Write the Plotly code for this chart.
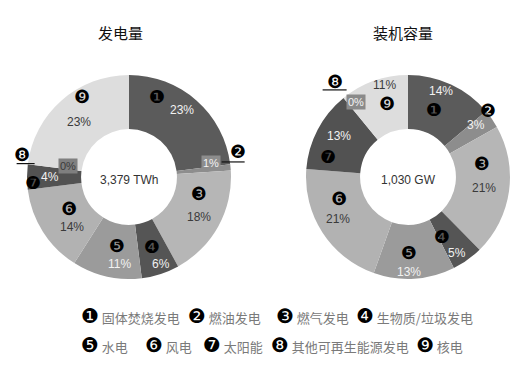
import math
import plotly.graph_objects as go

W, H = 521, 373

# Slice order (clockwise from 12 o'clock)
circled = ["❶", "❷", "❸", "❹", "❺", "❻", "❼", "❽", "❾"]
legend_names = ["固体焚烧发电", "燃油发电", "燃气发电", "生物质/垃圾发电",
                "水电", "风电", "太阳能", "其他可再生能源发电", "核电"]

# Share of generation (%), total 3,379 TWh
gen_pct = [23, 1, 18, 6, 11, 14, 4, 0, 23]
gen_total = "3,379 TWh"
# Share of installed capacity (%), total 1,030 GW
cap_pct = [14, 3, 21, 5, 13, 21, 13, 0, 11]
cap_total = "1,030 GW"

titles = ["发电量", "装机容量"]

slice_colors = ["#5b5b5b", "#8d8d8d", "#b6b6b6", "#555555", "#9b9b9b",
                "#b2b2b2", "#525252", "#8a8a8a", "#dddddd"]
# percent text colour per slice (light on the darker slices)
pct_colors = ["#f2f2f2", "#f2f2f2", "#3a3a3a", "#f2f2f2", "#f2f2f2",
              "#3a3a3a", "#f2f2f2", "#f2f2f2", "#3a3a3a"]

CJK = "Noto Sans CJK SC"
SANS = "Liberation Sans, Arial, sans-serif"
SYM = "DejaVu Sans"

# pie geometry in pixels
R = 102
HOLE = 0.47
MID = 0.735          # ring mid-line as a fraction of the outer radius
centers = [(129, 177), (408, 177)]

# label nudges (px) from each slice's mid-ring anchor: (number, percent)
gen_nudge = [((-22, -24), (3, -11)), ((34, -18), (7, -7)), ((4, -20), (4, 4)),
             ((0, -2), (9, 16)), ((4, -5), (7, 14)), ((3, -9), (6, 10)),
             ((-21, 5), (-4, 0)), ((-33, -13), (13, -2)), ((3, -24), (0, 1))]
cap_nudge = [((-6, 0), (1, -18)), ((18, -24), (6, -9)), ((0, -24), (2, 1)),
             ((-10, -1), (5, 15)), ((-4, 1), (-4, 20)), ((-6, -19), (-7, 1)),
             ((-14, 14), (-3, -6)), ((-26, -37), (-5, -17)), ((4, -3), (2, -21))]
# percent labels drawn in a grey box, and the leader lines (x0, x1, dy)
gen_boxed = {1: ("#8d8d8d", "#f4f4f4"), 7: ("#7f7f7f", "#3a3a3a")}
cap_boxed = {7: ("#8a8a8a", "#f4f4f4")}
gen_leaders = {1: (18, 41, -8), 7: (-38, -20, -4)}
cap_leaders = {7: (-38, -14, -29)}


def domain(cx, cy):
    return dict(x=[(cx - R) / W, (cx + R) / W],
                y=[(H - cy - R) / H, (H - cy + R) / H])


def anchor_px(ci, values, idx):
    """Pixel position of the mid-angle point of slice idx on the ring mid-line."""
    tot = sum(values)
    ang = 2 * math.pi * (sum(values[:idx]) + values[idx] / 2) / tot
    cx, cy = centers[ci]
    return cx + MID * R * math.sin(ang), cy - MID * R * math.cos(ang)


fig = go.Figure()
for ci, vals in enumerate([gen_pct, cap_pct]):
    fig.add_trace(go.Pie(
        values=vals, labels=legend_names, textinfo="none",
        sort=False, direction="clockwise", rotation=0,
        hole=HOLE, marker=dict(colors=slice_colors, line=dict(width=0)),
        domain=domain(*centers[ci]), showlegend=False, hoverinfo="label+value",
    ))

ann = []
shapes = []
title_x = [120, 403]
for ci, (t, tot) in enumerate(zip(titles, [gen_total, cap_total])):
    cx, cy = centers[ci]
    ann.append(dict(x=title_x[ci] / W, y=1 - 32 / H, text=t, showarrow=False,
                    xanchor="center", yanchor="middle",
                    font=dict(family=CJK, size=15, color="#111111")))
    ann.append(dict(x=cx / W, y=1 - (cy + 3) / H, text=tot, showarrow=False,
                    xanchor="center", yanchor="middle",
                    font=dict(family=SANS, size=12, color="#333333")))


def text_at(x, y, text, **kw):
    d = dict(x=x / W, y=1 - y / H, text=text, showarrow=False,
             xref="paper", yref="paper", xanchor="center", yanchor="middle")
    d.update(kw)
    ann.append(d)


for ci, (vals, nudge, boxed, leaders) in enumerate(
        [(gen_pct, gen_nudge, gen_boxed, gen_leaders),
         (cap_pct, cap_nudge, cap_boxed, cap_leaders)]):
    for i, v in enumerate(vals):
        ax, ay = anchor_px(ci, vals, i)
        (sdx, sdy), (pdx, pdy) = nudge[i]
        text_at(ax + sdx, ay + sdy, circled[i],
                font=dict(family=SYM, size=18, color="#000000"))
        if i in boxed:
            bg, fg = boxed[i]
            text_at(ax + pdx, ay + pdy, f"{v}%", bgcolor=bg, borderpad=1,
                    font=dict(family=SANS, size=11, color=fg))
        else:
            text_at(ax + pdx, ay + pdy, f"{v}%",
                    font=dict(family=SANS, size=12, color=pct_colors[i]))
        if i in leaders:
            x0, x1, dy = leaders[i]
            shapes.append(dict(type="line", xref="paper", yref="paper",
                               x0=(ax + x0) / W, x1=(ax + x1) / W,
                               y0=1 - (ay + dy) / H, y1=1 - (ay + dy) / H,
                               line=dict(color="#111111", width=1.2)))

# legend: two rows of numbered entries
legend_rows = [[0, 1, 2, 3], [4, 5, 6, 7, 8]]
legend_x = [[88, 195, 283, 363], [88, 152, 210, 278, 423]]
legend_y = [316, 345]
for row, xs, yy in zip(legend_rows, legend_x, legend_y):
    for i, xx in zip(row, xs):
        ann.append(dict(x=(xx - 9) / W, y=1 - yy / H, showarrow=False,
                        xanchor="left", yanchor="middle",
                        text=(f"<span style='font-family:{SYM};font-size:20px;"
                              f"fill:#000'>{circled[i]}</span> {legend_names[i]}"),
                        font=dict(family=CJK, size=13, color="#7a7a7a")))

fig.update_layout(width=W, height=H, margin=dict(l=0, r=0, t=0, b=0),
                  paper_bgcolor="white", plot_bgcolor="white",
                  annotations=ann, shapes=shapes)

fig.write_html("out.html")
